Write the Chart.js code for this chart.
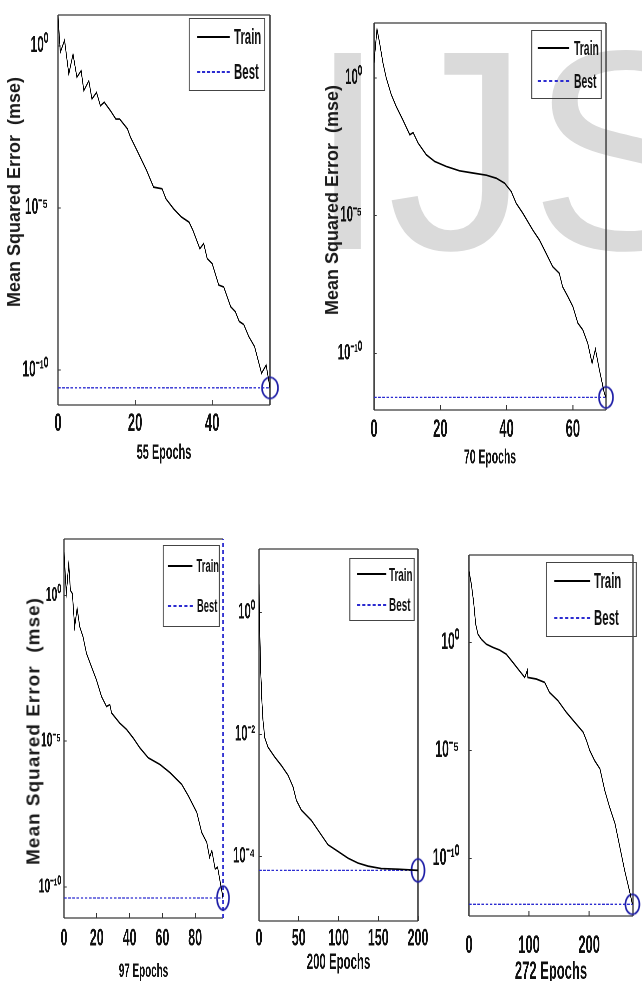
<!DOCTYPE html>
<html><head><meta charset="utf-8">
<script src="https://cdn.jsdelivr.net/npm/chart.js@4.4.1/dist/chart.umd.min.js"></script>
<style>
html,body{margin:0;padding:0;background:#fff;}
body{width:642px;height:981px;position:relative;overflow:hidden;}
.wm{position:absolute;left:308px;top:8px;font:285px/1 'Liberation Sans',Arial,sans-serif;color:#dadada;white-space:pre;}
.wrap{position:absolute;transform-origin:0 0;}
.wrap canvas{display:block;}
.ytitle{position:absolute;left:0;top:0;font-family:'Liberation Sans',Arial,sans-serif;font-weight:bold;white-space:pre;color:#1a1a1a;line-height:1;}
.legend{position:absolute;box-sizing:border-box;border-style:solid;border-color:#444;display:flex;flex-direction:column;justify-content:space-around;line-height:1;color:#111;}
.lrow{display:flex;align-items:center;}
.samp{display:inline-block;height:0;}
</style></head><body>
<div class="wm">IJS</div>
<script>
// ---------------- data (MSE as log10 exponents) ----------------
const xTitles = ['55 Epochs', '70 Epochs', '97 Epochs', '200 Epochs', '272 Epochs'];
const legendLabels = ['Train', 'Best'];
const yAxisTitle = 'Mean Squared Error  (mse)';

const epochs1 = [0,0.6,1.7,2.8,3.9,4.9,6,6.7,8,8.8,10,11,12,13.6,15,16,18,18.8,20.5,23,24.8,27,28,30,32,34,35,36.8,37.8,38.7,40,41.7,43,44.8,46,47,48.2,49.5,51,52.8,54,55];
const trainLog1 = [0.92,-0.2,0.17,-0.87,-0.26,-0.97,-0.77,-1.38,-1.08,-1.64,-1.44,-1.85,-1.74,-2.0,-2.26,-2.26,-2.56,-2.82,-3.23,-3.85,-4.36,-4.41,-4.72,-5.03,-5.28,-5.44,-5.69,-6.26,-6.1,-6.56,-6.72,-7.38,-7.44,-8.05,-8.2,-8.5,-8.6,-8.97,-9.28,-10.1,-9.85,-10.55];

const epochs2 = [0,0.9,1.7,2.7,3.7,5.2,6.7,8.7,10.8,11.8,13.3,15.8,18.3,21.8,25.8,29.8,33.9,36.9,39.4,41.4,42.9,44.9,47.9,49.9,51.9,53.9,55.9,56.9,58.5,60,61.5,63,64.5,65.8,66.8,68,69.5,70];
const trainLog2 = [0.55,1.78,1.27,0.55,0,-0.6,-1.03,-1.52,-2.06,-1.98,-2.36,-2.79,-3.03,-3.21,-3.37,-3.45,-3.53,-3.64,-3.82,-4.12,-4.55,-4.91,-5.52,-5.88,-6.36,-6.85,-7.09,-7.58,-7.94,-8.3,-8.9,-9.15,-9.64,-10.36,-9.85,-10.6,-11.45,-11.6];

const epochs3 = [0,1.4,2.9,3.9,5.1,6.5,8,9.6,11.6,13.7,16.7,19.8,22.9,25.9,28,29,34,38.2,42.2,46.3,51.4,58.6,64.7,71.8,75.9,81,84,87.1,88.8,90.2,92.2,93.7,95.3,97];
const trainLog3 = [1.48,0.06,1.08,0.17,0.06,-1.08,-0.45,-1.08,-1.42,-1.99,-2.44,-2.9,-3.47,-3.81,-3.75,-4.03,-4.38,-4.6,-4.89,-5.23,-5.57,-5.8,-6.08,-6.48,-6.88,-7.44,-8.13,-8.47,-8.98,-8.75,-9.38,-9.32,-9.83,-10.37];

const epochs4 = [0,0.8,2.1,3.8,5,6.3,7.1,11.3,19.7,28.1,36.5,42.8,47,53.2,65.8,74.2,86.8,99.4,112,124.5,137.1,153.9,174.8,200];
const trainLog4 = [0.46,-0.22,-0.95,-1.5,-1.77,-1.93,-2.05,-2.21,-2.37,-2.51,-2.67,-2.86,-3.08,-3.24,-3.41,-3.57,-3.81,-3.92,-4.03,-4.11,-4.16,-4.2,-4.21,-4.23];

const epochs5 = [0,3.9,7.8,11.1,15,20.6,28.9,40,51,62,73,84,92.8,97.2,98,112,126,134,148,162,176,190,195.6,201,209,218,226,234,243,251,259,268,272];
const trainLog5 = [3.3,2.7,1.85,0.85,0.38,0.15,-0.08,-0.23,-0.35,-0.54,-0.92,-1.31,-1.62,-1.28,-1.62,-1.69,-1.85,-2.31,-2.69,-3.23,-3.69,-4.15,-4.54,-5.0,-5.46,-5.85,-6.85,-7.62,-8.38,-9.46,-10.54,-11.6,-12.12];

const bestEpochs = [55, 70, 97, 200, 272];
const bestLog = [-10.55, -11.6, -10.375, -4.23, -12.12];
const xMaxes = [55, 70, 97, 200, 273];
const yMinLog = [-11.08, -12.06, -11.06, -5.06, -12.66];
const yMaxLog = [0.95, 2.0, 1.93, 1.04, 4.05];

const xTicks1 = [0, 20, 40];
const xTicks2 = [0, 20, 40, 60];
const xTicks3 = [0, 20, 40, 60, 80];
const xTicks4 = [0, 50, 100, 150, 200];
const xTicks5 = [0, 100, 200];
const yTicksA = [1, 1e-5, 1e-10];
const yTickLabelsA = ['10\u2070', '10\u207B\u2075', '10\u207B\u00B9\u2070'];
const yTicksB = [1, 1e-2, 1e-4];
const yTickLabelsB = ['10\u2070', '10\u207B\u00B2', '10\u207B\u2074'];

const series = [
  {epochs: epochs1, log: trainLog1, xTicks: xTicks1, yTicks: yTicksA, yLabels: yTickLabelsA},
  {epochs: epochs2, log: trainLog2, xTicks: xTicks2, yTicks: yTicksA, yLabels: yTickLabelsA},
  {epochs: epochs3, log: trainLog3, xTicks: xTicks3, yTicks: yTicksA, yLabels: yTickLabelsA, bestVertical: true},
  {epochs: epochs4, log: trainLog4, xTicks: xTicks4, yTicks: yTicksB, yLabels: yTickLabelsB},
  {epochs: epochs5, log: trainLog5, xTicks: xTicks5, yTicks: yTicksA, yLabels: yTickLabelsA},
];

// ---------------- layout / style ----------------
const SX = 0.52;   // horizontal condensing of each panel (the source figure is squeezed sideways)
const SANS = "'Liberation Sans',Arial,sans-serif";
const LINE_BLUE = '#2b2bd0';
const CIRCLE_BLUE = '#1c1ca6';

const layouts = [
 {box:[0,4,292,478], frame:[58,14,270,405], yLabelRight:48, xLabelTop:415, xTitleY:453, xTitleSize:21, xTickSize:25, yTickSize:23, ell:[18,23],
  legend:{rect:[189,18,265,91], size:22, padL:7, sw:33, gap:4}, yTitle:{x:14,y:192,size:18,ls:0}},
 {box:[320,10,642,480], frame:[374,23,606,410], yLabelRight:362, xLabelTop:421, xTitleY:458, xTitleSize:20, xTickSize:25, yTickSize:22, ell:[16,23],
  legend:{rect:[531,30,602,99], size:20, padL:6, sw:31, gap:5}, yTitle:{x:332,y:200,size:18,ls:0}},
 {box:[0,528,240,981], frame:[64,538,223,918], yLabelRight:61, xLabelTop:930, xTitleY:972, xTitleSize:19, xTickSize:24, yTickSize:20, ell:[14,26], frameRight:false,
  legend:{rect:[163,545,220,627], size:18, padL:4, sw:25, gap:4}, yTitle:{x:33,y:731,size:19,ls:1}},
 {box:[226,538,440,981], frame:[259,548,418,921], yLabelRight:255, xLabelTop:930, xTitleY:963, xTitleSize:22, xTickSize:24, yTickSize:22, ell:[15,25],
  legend:{rect:[349,558,415,621], size:19, padL:7, sw:29, gap:3}, yTitle:null},
 {box:[432,544,642,981], frame:[469,554,633,916], yLabelRight:459, xLabelTop:937, xTitleY:972, xTitleSize:25, xTickSize:25, yTickSize:24, ell:[16,22],
  legend:{rect:[546,562,637,637], size:22, padL:7, sw:36, gap:4}, yTitle:null},
];

const framePlugin = {
  id: 'frame',
  beforeDatasetsDraw(chart, args, opts) {
    const {ctx, chartArea: {left, top, right, bottom}} = chart;
    ctx.save();
    ctx.strokeStyle = '#3a3a3a';
    ctx.lineWidth = 1.2;
    ctx.beginPath();
    ctx.moveTo(left, top); ctx.lineTo(right, top);
    ctx.moveTo(left, bottom); ctx.lineTo(right, bottom);
    ctx.stroke();
    ctx.lineWidth = 1.2 / SX;
    ctx.beginPath();
    ctx.moveTo(left, top); ctx.lineTo(left, bottom);
    if (opts.right !== false) { ctx.moveTo(right, top); ctx.lineTo(right, bottom); }
    ctx.stroke();
    ctx.restore();
  }
};

// marker image: an ellipse whose outline stays even after the panel is condensed
function ellipseMarker(wPage, hPage) {
  const W = Math.round(wPage / SX) + 4, H = Math.round(hPage) + 4;
  const c = document.createElement('canvas');
  c.width = W; c.height = H;
  const x = c.getContext('2d');
  x.setTransform(1 / SX, 0, 0, 1, 0, 0);
  x.strokeStyle = CIRCLE_BLUE;
  x.lineWidth = 1.7;
  x.beginPath();
  x.ellipse(W * SX / 2, H / 2, wPage / 2 - 1, hPage / 2 - 1, 0, 0, Math.PI * 2);
  x.stroke();
  return c;
}

Chart.defaults.animation = false;

function build(k) {
  const L = layouts[k], D = series[k], s = SX;
  const [Lc, Tc, Rc, Bc] = L.box;
  const Wc = Math.round((Rc - Lc) / s), Hc = Bc - Tc;
  const wrap = document.createElement('div');
  wrap.className = 'wrap';
  wrap.style.cssText = `left:${Lc}px;top:${Tc}px;width:${Wc}px;height:${Hc}px;transform:scaleX(${s});`;
  const cv = document.createElement('canvas');
  cv.width = Wc; cv.height = Hc;
  wrap.appendChild(cv);
  document.body.appendChild(wrap);

  const [fL, fT, fR, fB] = L.frame;
  const axisW = (fL - Lc) / s;
  const padRight = Wc - (fR - Lc) / s;
  const padTop = fT - Tc;
  const lh = L.xTitleSize * 1.2;
  const axisH = (L.xTitleY - fB) + lh / 2;
  const padBottom = Hc - (fB - Tc) - axisH;
  const TL = -5;
  const yPad = (fL - L.yLabelRight) / s - TL;
  const xPad = (L.xLabelTop - fB) - 0.23 * L.xTickSize - TL;

  const yMin = Math.pow(10, yMinLog[k]), yMax = Math.pow(10, yMaxLog[k]);
  const best = Math.pow(10, bestLog[k]);
  const train = D.epochs.map((e, i) => ({x: e, y: Math.pow(10, D.log[i])}));

  const datasets = [
    {label: legendLabels[0], data: train, borderColor: '#000', borderWidth: 1.7, pointRadius: 0, tension: 0},
    {label: legendLabels[1], data: [{x: 0, y: best}, {x: xMaxes[k], y: best}], borderColor: LINE_BLUE, borderWidth: 1.3, borderDash: [5, 3], pointRadius: 0},
    {label: 'best point', data: [{x: bestEpochs[k], y: best}], showLine: false, pointRadius: 10,
     pointStyle: ellipseMarker(L.ell[0], L.ell[1]), clip: false},
  ];
  if (D.bestVertical) {
    datasets.push({label: 'best epoch', data: [{x: bestEpochs[k], y: yMin}, {x: bestEpochs[k], y: yMax}],
      borderColor: LINE_BLUE, borderWidth: 1.3 / s, borderDash: [4, 3], pointRadius: 0, clip: false});
  }

  new Chart(cv, {
    type: 'line',
    data: {datasets},
    options: {
      responsive: false,
      devicePixelRatio: 2,
      events: [],
      layout: {padding: {left: 0, right: padRight, top: padTop, bottom: padBottom}},
      plugins: {legend: {display: false}, tooltip: {enabled: false}, frame: {right: L.frameRight !== false}},
      scales: {
        x: {
          type: 'linear', min: 0, max: xMaxes[k],
          border: {display: false},
          grid: {display: true, drawOnChartArea: false, drawTicks: true, tickLength: TL, color: '#333', lineWidth: 1 / s},
          ticks: {font: {family: SANS, size: L.xTickSize, weight: 'bold'}, color: '#111', padding: xPad, maxRotation: 0, autoSkip: false,
                  callback: (v) => String(v)},
          afterBuildTicks: (sc) => { sc.ticks = D.xTicks.map(v => ({value: v})); },
          afterFit: (sc) => { sc.height = axisH; sc.paddingLeft = 0; sc.paddingRight = 0; sc.paddingTop = 0; sc.paddingBottom = 0; },
          title: {display: true, text: xTitles[k], color: '#111', padding: 0,
                  font: {family: SANS, size: L.xTitleSize, weight: 'bold'}}
        },
        y: {
          type: 'logarithmic', min: yMin, max: yMax,
          border: {display: false},
          grid: {display: true, drawOnChartArea: false, drawTicks: true, tickLength: TL, color: '#333', lineWidth: 1},
          ticks: {font: {family: SANS, size: L.yTickSize, weight: 'bold'}, color: '#111', padding: yPad, autoSkip: false,
                  callback: (v, i) => { const j = D.yTicks.indexOf(v); return D.yLabels[j >= 0 ? j : i]; }},
          afterBuildTicks: (sc) => { sc.ticks = D.yTicks.map(v => ({value: v})); },
          afterFit: (sc) => { sc.width = axisW; sc.paddingLeft = 0; sc.paddingRight = 0; sc.paddingTop = 0; sc.paddingBottom = 0; }
        }
      }
    },
    plugins: [framePlugin]
  });

  // legend (inside the condensed wrapper)
  const G = L.legend;
  const [x1, y1, x2, y2] = G.rect;
  const lg = document.createElement('div');
  lg.className = 'legend';
  lg.style.cssText = `left:${(x1 - Lc) / s}px;top:${y1 - Tc}px;width:${(x2 - x1) / s}px;height:${y2 - y1}px;` +
    `border-width:1px ${1.2 / s}px;padding-left:${G.padL / s}px;font-family:${SANS};font-weight:bold;font-size:${G.size}px;`;
  legendLabels.forEach((lab, i) => {
    const row = document.createElement('div');
    row.className = 'lrow';
    const sp = document.createElement('span');
    sp.className = 'samp';
    sp.style.width = (G.sw / s) + 'px';
    sp.style.marginRight = (G.gap / s) + 'px';
    sp.style.borderTop = i === 0 ? '2px solid #000' : `2px dashed ${LINE_BLUE}`;
    const tx = document.createElement('span');
    tx.textContent = lab;
    row.appendChild(sp); row.appendChild(tx);
    lg.appendChild(row);
  });
  wrap.appendChild(lg);

  // y-axis title (not condensed)
  if (L.yTitle) {
    const t = document.createElement('div');
    t.className = 'ytitle';
    t.textContent = yAxisTitle;
    t.style.fontSize = L.yTitle.size + 'px';
    t.style.letterSpacing = L.yTitle.ls + 'px';
    document.body.appendChild(t);
    const w = t.offsetWidth, h = t.offsetHeight;
    t.style.transform = `translate(${L.yTitle.x - w / 2}px, ${L.yTitle.y - h / 2}px) rotate(-90deg)`;
  }
}

for (let k = 0; k < 5; k++) build(k);
</script>
</body></html>
